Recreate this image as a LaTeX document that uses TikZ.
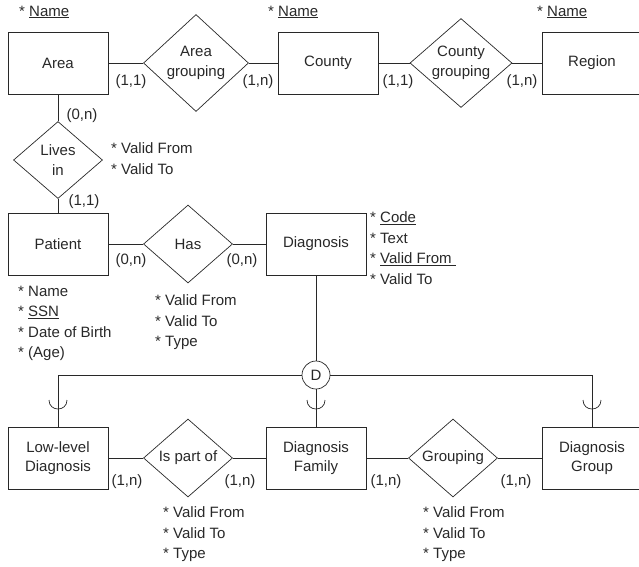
\documentclass[tikz,border=0pt]{standalone}
\usepackage{fontspec}
\setmainfont{Liberation Sans}
\usetikzlibrary{shapes.geometric}
\definecolor{InkColor}{RGB}{40,40,40}
\tikzset{
  entity/.style={draw=InkColor, text=InkColor, rectangle, minimum width=100pt,
    minimum height=62pt, inner sep=0pt, align=center, line width=0.7pt,
    font=\fontsize{15}{19}\selectfont},
  relation/.style={draw=InkColor, text=InkColor, diamond, inner sep=0pt,
    align=center, line width=0.7pt, font=\fontsize{15}{20.5}\selectfont},
  card/.style={inner sep=0pt, text=InkColor, font=\fontsize{15}{18}\selectfont},
  attrs/.style={anchor=north west, inner sep=0pt, align=left, text=InkColor,
    font=\fontsize{15}{20.5}\selectfont},
  link/.style={draw=InkColor, line width=0.7pt},
}

\begin{document}
\begin{tikzpicture}[x=1pt,y=-1pt]
\useasboundingbox (0,0) rectangle (639,566);

\node[entity] (Area) at (58,63) {Area};
\node[relation,minimum width=105pt,minimum height=97pt] (AreaGrouping) at (196,63) {Area\\grouping};
\node[entity] (County) at (328,63) {County};
\node[relation,aspect=1.15,minimum width=102pt,minimum height=89pt] (CountyGrouping) at (461,63) {County\\grouping};
\node[entity] (Region) at (592,63) {Region};

\node[relation,minimum width=89pt,minimum height=77pt] (LivesIn) at (58,160) {Lives\\in};

\node[entity] (Patient) at (58,244) {Patient};
\node[relation,minimum width=89pt,minimum height=78pt] (Has) at (188,244) {Has};
\node[entity] (Diagnosis) at (316,244) {Diagnosis};

\node[circle,draw=InkColor,text=InkColor,line width=0.7pt,minimum size=28pt,inner sep=0pt,
    font=\fontsize{15}{18}\selectfont] (Disjoint) at (316,375) {D};

\node[entity] (LowLevel) at (58,458) {Low-level\\Diagnosis};
\node[relation,minimum width=89pt,minimum height=78pt] (IsPartOf) at (188,458) {Is part of};
\node[entity] (Family) at (316,458) {Diagnosis\\Family};
\node[relation,minimum width=89pt,minimum height=78pt] (Grouping) at (453,458) {Grouping};
\node[entity] (DiagGroup) at (592,458) {Diagnosis\\Group};

\draw[link] (Area) -- (AreaGrouping) -- (County) -- (CountyGrouping) -- (Region);
\draw[link] (Area) -- (LivesIn) -- (Patient);
\draw[link] (Patient) -- (Has) -- (Diagnosis);
\draw[link] (LowLevel) -- (IsPartOf) -- (Family) -- (Grouping) -- (DiagGroup);
\draw[link] (Diagnosis) -- (Disjoint) -- (Family);
\draw[link] (Disjoint.west) -| (LowLevel.north);
\draw[link] (Disjoint.east) -| (DiagGroup.north);
\foreach \cx in {58,316,592}
    \draw[link] (\cx-9,400) .. controls (\cx-9,412) and (\cx+9,412) .. (\cx+9,400);

\node[card] (cAreaL) at (131,82) {(1,1)};
\node[card] (cAreaR) at (258,82) {(1,n)};
\node[card] (cCountyL) at (398,82) {(1,1)};
\node[card] (cCountyR) at (522,82) {(1,n)};
\node[card] (cLivesT) at (82,116) {(0,n)};
\node[card] (cLivesB) at (84,202) {(1,1)};
\node[card] (cHasL) at (131,261) {(0,n)};
\node[card] (cHasR) at (242,261) {(0,n)};
\node[card] (cPartL) at (127,482) {(1,n)};
\node[card] (cPartR) at (240,482) {(1,n)};
\node[card] (cGroupL) at (386,482) {(1,n)};
\node[card] (cGroupR) at (516,482) {(1,n)};

\node[attrs] (aArea) at (19,5.5) {* \underline{Name}};
\node[attrs] (aCounty) at (268,5.5) {* \underline{Name}};
\node[attrs] (aRegion) at (537,5.5) {* \underline{Name}};
\node[attrs] (aLivesIn) at (111,142.5) {* Valid From\\* Valid To};
\node[attrs] (aPatient) at (18,285.5) {* Name\\* \underline{SSN}\\* Date of Birth\\* (Age)};
\node[attrs] (aHas) at (155,294.5) {* Valid From\\* Valid To\\* Type};
\node[attrs] (aDiagnosis) at (370,211.5) {* \underline{Code}\\* Text\\* \underline{Valid From\ }\\* Valid To};
\node[attrs] (aIsPartOf) at (163,506.5) {* Valid From\\* Valid To\\* Type};
\node[attrs] (aGrouping) at (423,506.5) {* Valid From\\* Valid To\\* Type};
\end{tikzpicture}
\end{document}
